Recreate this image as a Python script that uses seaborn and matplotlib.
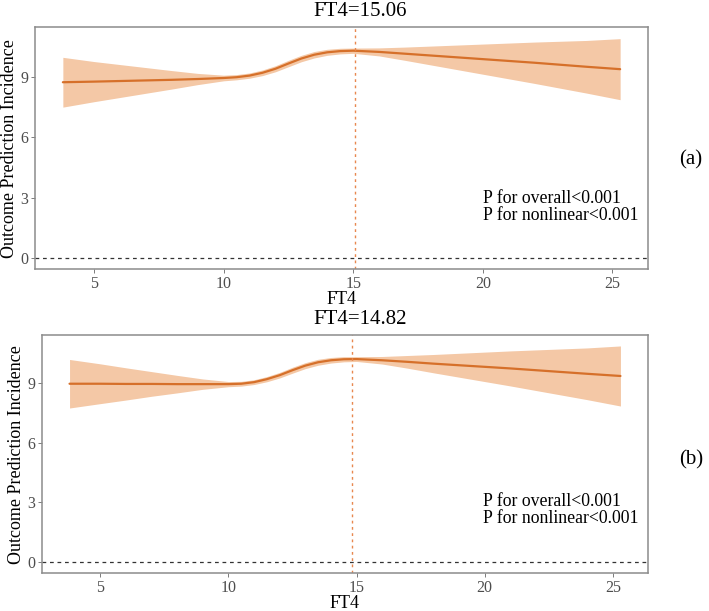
import seaborn as sns
import matplotlib.pyplot as plt
import pandas as pd

# Valores
ft4 = [3.8, 5, 6, 7, 8, 9, 10, 10.5, 11, 11.5, 12, 12.5, 13, 13.5, 14, 14.5, 15,
       16, 17, 18, 19, 20, 21, 22, 23, 24, 25.3]

fit_a = [8.75, 8.78, 8.81, 8.84, 8.87, 8.91, 8.96, 9.00, 9.08, 9.22, 9.42, 9.68, 9.93, 10.12,
         10.24, 10.30, 10.32, 10.26, 10.17, 10.08, 9.99, 9.90, 9.81, 9.72, 9.62, 9.52, 9.40]
lo_a = [7.51, 7.78, 7.99, 8.20, 8.41, 8.63, 8.82, 8.87, 8.95, 9.08, 9.27, 9.52, 9.77, 9.96,
        10.09, 10.16, 10.19, 10.06, 9.84, 9.61, 9.38, 9.15, 8.92, 8.69, 8.45, 8.21, 7.88]
up_a = [9.99, 9.78, 9.63, 9.48, 9.33, 9.19, 9.10, 9.13, 9.21, 9.36, 9.57, 9.84, 10.09, 10.28,
        10.39, 10.44, 10.45, 10.46, 10.50, 10.55, 10.60, 10.65, 10.70, 10.75, 10.79, 10.83, 10.92]

fit_b = [8.97, 8.97, 8.96, 8.96, 8.95, 8.95, 8.95, 8.97, 9.05, 9.20, 9.40, 9.65, 9.88, 10.05,
         10.15, 10.20, 10.21, 10.15, 10.07, 9.98, 9.90, 9.82, 9.74, 9.65, 9.56, 9.47, 9.36]
lo_b = [7.75, 7.97, 8.15, 8.34, 8.51, 8.69, 8.82, 8.85, 8.93, 9.07, 9.26, 9.50, 9.73, 9.90,
        10.01, 10.07, 10.09, 9.96, 9.75, 9.52, 9.30, 9.08, 8.86, 8.63, 8.40, 8.17, 7.85]
up_b = [10.19, 9.97, 9.77, 9.58, 9.39, 9.21, 9.08, 9.09, 9.17, 9.33, 9.54, 9.80, 10.03, 10.20,
        10.29, 10.33, 10.33, 10.34, 10.39, 10.44, 10.50, 10.56, 10.62, 10.67, 10.72, 10.77, 10.87]

cutoffs = [15.06, 14.82]
titles = ["FT4=15.06", "FT4=14.82"]
panel_tags = ["(a)", "(b)"]
xticks = [5, 10, 15, 20, 25]
yticks = [0, 3, 6, 9]

sns.set_theme(style="white")
plt.rcParams["font.family"] = ["Liberation Serif", "DejaVu Serif"]

W, H = 709, 611
fig = plt.figure(figsize=(W / 100, H / 100), dpi=100)


def fx(px):
    return px / W


def fy(py):
    return 1 - py / H


line_col = "#D6702A"
band_col = "#F4C8A6"
grey = "#4D4D4D"

# posiciones de cada panel en píxeles: izq, der, arriba, abajo
boxes = [(35, 648, 27, 269), (42, 648, 335, 573)]
ylims = [(-0.55, 11.5), (-0.544, 11.42)]
title_y = [12, 320]
xlab_y = [300, 603]
ylab_x = [10, 17]
p_y = [207, 510]
tag_y = [160, 460]

series = [(fit_a, lo_a, up_a), (fit_b, lo_b, up_b)]

for i, (fit, lo, up) in enumerate(series):
    l, r, t, b = boxes[i]
    ax = fig.add_axes([fx(l), fy(b), fx(r - l), (b - t) / H])
    df = pd.DataFrame({"FT4": ft4, "fit": fit, "lo": lo, "up": up})
    ax.fill_between(df["FT4"], df["lo"], df["up"], color=band_col, lw=0)
    sns.lineplot(data=df, x="FT4", y="fit", ax=ax, color=line_col, lw=1.6)
    ax.axhline(0, color="#333333", ls=(0, (3, 3)), lw=0.9)
    ax.axvline(cutoffs[i], color="#E8884F", ls=(0, (2, 2.5)), lw=1.0)
    ax.set_xlim(2.725, 26.375)
    ax.set_ylim(*ylims[i])
    ax.set_xticks(xticks)
    ax.set_yticks(yticks)
    ax.set_xlabel("")
    ax.set_ylabel("")
    ax.tick_params(axis="both", which="both", bottom=True, left=True, length=3,
                   width=0.6, color="#666666", labelsize=11.5, labelcolor=grey, pad=2)
    for s in ax.spines.values():
        s.set_color("#8C8C8C")
        s.set_linewidth(1.1)

    mid = (l + r) / 2
    fig.text(fx(360), fy(title_y[i]), titles[i], ha="center", va="center", fontsize=15, color="black")
    fig.text(fx(mid), fy(xlab_y[i]), "FT4", ha="center", va="center", fontsize=13, color="black")
    fig.text(fx(ylab_x[i]), fy((t + b) / 2 + 1), "Outcome Prediction Incidence", ha="center",
             va="center", rotation=90, fontsize=13, color="black")
    fig.text(fx(483), fy(p_y[i]), "P for overall<0.001\nP for nonlinear<0.001", ha="left",
             va="center", fontsize=12.8, color="black", linespacing=1.05)
    fig.text(fx(691), fy(tag_y[i]), panel_tags[i], ha="center", va="center", fontsize=15, color="black")

fig.savefig("out.png", dpi=100)
